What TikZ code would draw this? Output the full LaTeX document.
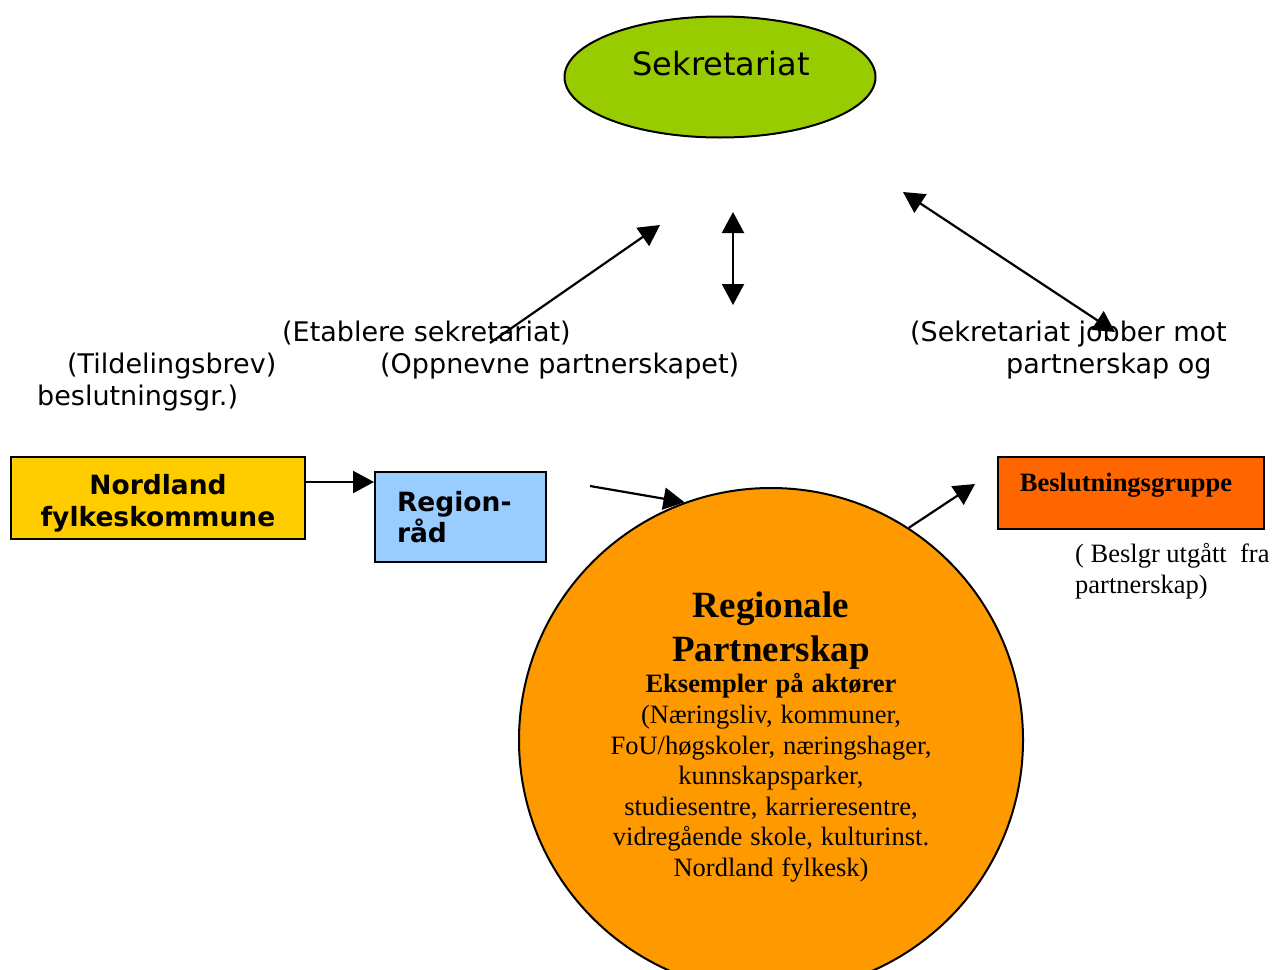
\documentclass[tikz,border=0pt]{standalone}
\usepackage{fontspec}
\setmainfont{Liberation Serif}
\newfontfamily\verd{DejaVu Sans}
\usetikzlibrary{arrows.meta,shapes.geometric}
\definecolor{sekgreen}{HTML}{99CC00}
\definecolor{nfkyellow}{HTML}{FFCC00}
\definecolor{regblue}{HTML}{99CCFF}
\definecolor{bgorange}{HTML}{FF6600}
\definecolor{prorange}{HTML}{FF9900}
\begin{document}
\begin{tikzpicture}[x=1pt,y=-1pt,
  box/.style={draw=black, line width=2pt, inner sep=0pt},
  arr/.style={line width=2.2pt, -{Triangle[length=21pt,width=22pt]}},
  darr/.style={line width=2.2pt, {Triangle[length=21pt,width=22pt]}-{Triangle[length=21pt,width=22pt]}},
  lbl/.style={font=\verd\fontsize{27}{32}\selectfont, inner sep=0pt, anchor=base west},
]
\clip (0,0) rectangle (1273,969);
\fill[white] (0,0) rectangle (1273,969);

% Sekretariat
\node[ellipse, draw, line width=2pt, fill=sekgreen, minimum width=311pt, minimum height=121pt, inner sep=0pt] (sek) at (720,77) {};
\node[font=\verd\fontsize{32}{38}\selectfont, inner sep=0pt, anchor=base] (sekt) at (721,75) {Sekretariat};

% Boxes
\node[box, fill=nfkyellow, minimum width=294pt, minimum height=82pt] (nfk) at (158,498) {};
\node[align=center, inner sep=0pt, font=\verd\bfseries\fontsize{26.5}{32.5}\selectfont] (nfkt) at (158,503.5) {Nordland\\fylkeskommune};
\node[box, fill=regblue, minimum width=171pt, minimum height=90pt, text width=127pt, align=left,
      font=\verd\bfseries\fontsize{26.5}{31}\selectfont] (reg) at (460.5,517) {Region-\\råd};
\node[box, fill=bgorange, minimum width=266pt, minimum height=72pt] (bg) at (1131,493) {};
\node[font=\bfseries\fontsize{26.5}{31}\selectfont, inner sep=0pt, anchor=base] (bgt) at (1126,491) {Beslutningsgruppe};
\node[font=\fontsize{26.5}{31}\selectfont, inner sep=0pt, anchor=north west, align=left] (note) at (1075,543) {(\ Beslgr utgått\ \ fra\\partnerskap)};

% Circle
\node[circle, draw, line width=2pt, fill=prorange, minimum size=504pt, inner sep=0pt] (pr) at (771,740) {};
\node[anchor=north, inner sep=0pt, text width=480pt, align=center] (prt) at (771,592) {%
\spaceskip=0.3em
{\fontsize{37}{44}\selectfont\bfseries\spaceskip=0.3em Regionale\\Partnerskap\par}%
{\fontsize{26.5}{31}\selectfont\bfseries\spaceskip=0.3em Eksempler på aktører\par}%
{\fontsize{26.5}{30.6}\selectfont\spaceskip=0.3em (Næringsliv, kommuner,\\FoU/høgskoler, næringshager,\\kunnskapsparker,\\studiesentre, karrieresentre,\\vidregående skole, kulturinst.\\Nordland fylkesk)\par}};

% Labels
\node[lbl] (l1) at (282,341) {(Etablere sekretariat)};
\node[lbl] (l2) at (67,373) {(Tildelingsbrev)};
\node[lbl] (l3) at (380,373) {(Oppnevne partnerskapet)};
\node[lbl] (l4) at (37,405) {beslutningsgr.)};
\node[lbl] (l5) at (910,341) {(Sekretariat jobber mot};
\node[lbl] (l6) at (1006,373) {partnerskap og};

% Connector end points
\coordinate (a0) at (0,482);
\coordinate (a1s) at (490,343);
\coordinate (a1e) at (660,225);
\coordinate (a2s) at (733,305);
\coordinate (a2e) at (733,212);
\coordinate (a3s) at (903,192);
\coordinate (a3e) at (1115,332);
\coordinate (a4s) at (590,486);
\coordinate (a5e) at (975,484);

% Connectors
\draw[arr] (nfk.east |- a0) -- (reg.west |- a0);
\draw[arr] (a4s) -- (pr.110);
\draw[arr] (pr.57) -- (a5e);
\draw[arr] (a1s) -- (a1e);
\draw[darr] (a2s) -- (a2e);
\draw[darr] (a3s) -- (a3e);
\end{tikzpicture}
\end{document}
